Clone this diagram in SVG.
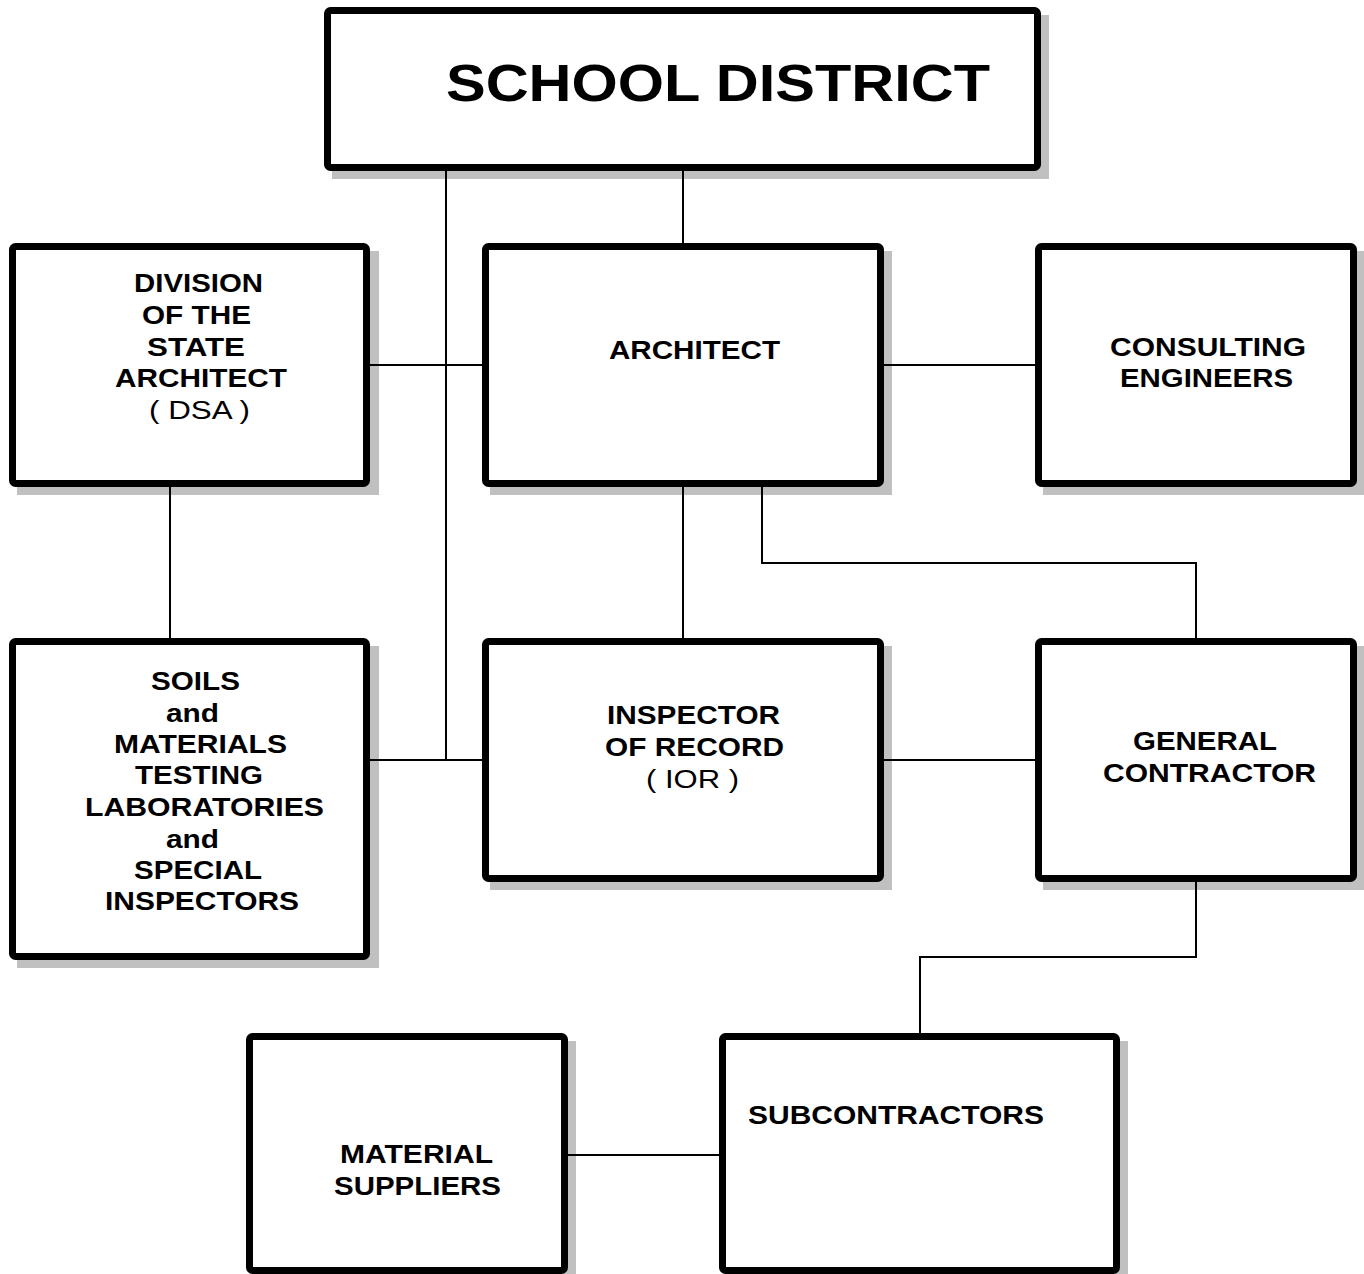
<svg xmlns="http://www.w3.org/2000/svg" width="1364" height="1274" viewBox="0 0 1364 1274">
<style>
.box{fill:#fff;stroke:#000;stroke-width:7}
.sh{fill:#c0c0c0}
.ln{fill:none;stroke:#000;stroke-width:2}
text{font-family:"Liberation Sans",Arial,sans-serif;font-size:26px;font-weight:bold;fill:#000}
.r{font-weight:normal}
</style>
<rect width="1364" height="1274" fill="#fff"/>
<g id="shadows">
<rect class="sh" x="332" y="15" width="717" height="164"/>
<rect class="sh" x="17" y="251" width="362" height="244"/>
<rect class="sh" x="490" y="251" width="402" height="244"/>
<rect class="sh" x="1043" y="251" width="322" height="244"/>
<rect class="sh" x="17" y="646" width="362" height="322"/>
<rect class="sh" x="490" y="646" width="402" height="244"/>
<rect class="sh" x="1043" y="646" width="322" height="244"/>
<rect class="sh" x="254" y="1041" width="322" height="244"/>
<rect class="sh" x="727" y="1041" width="401" height="244"/>
</g>
<g id="connectors">
<line class="ln" x1="683" y1="168" x2="683" y2="246"/>
<line class="ln" x1="446" y1="168" x2="446" y2="760"/>
<line class="ln" x1="368" y1="365" x2="485" y2="365"/>
<line class="ln" x1="881" y1="365" x2="1038" y2="365"/>
<line class="ln" x1="170" y1="484" x2="170" y2="641"/>
<line class="ln" x1="683" y1="484" x2="683" y2="641"/>
<polyline class="ln" points="762,484 762,563 1196,563 1196,641"/>
<line class="ln" x1="368" y1="760" x2="485" y2="760"/>
<line class="ln" x1="881" y1="760" x2="1038" y2="760"/>
<polyline class="ln" points="1196,879 1196,957 920,957 920,1036"/>
<line class="ln" x1="565" y1="1155" x2="722" y2="1155"/>
</g>
<g id="school-district">
<rect class="box" x="327.5" y="10.5" width="710" height="157" rx="3"/>
<text x="446" y="101" style="font-size:52px" textLength="544" lengthAdjust="spacingAndGlyphs">SCHOOL DISTRICT</text>
</g>
<g id="dsa">
<rect class="box" x="12.5" y="246.5" width="354" height="237" rx="3"/>
<text x="134" y="292" textLength="129" lengthAdjust="spacingAndGlyphs">DIVISION</text>
<text x="142" y="324" textLength="109" lengthAdjust="spacingAndGlyphs">OF THE</text>
<text x="147" y="356" textLength="98" lengthAdjust="spacingAndGlyphs">STATE</text>
<text x="115" y="387" textLength="172" lengthAdjust="spacingAndGlyphs">ARCHITECT</text>
<text class="r" x="149" y="419" textLength="101" lengthAdjust="spacingAndGlyphs">( DSA )</text>
</g>
<g id="architect">
<rect class="box" x="485.5" y="246.5" width="395" height="237" rx="3"/>
<text x="609" y="359" textLength="171" lengthAdjust="spacingAndGlyphs">ARCHITECT</text>
</g>
<g id="consulting-engineers">
<rect class="box" x="1038.5" y="246.5" width="315" height="237" rx="3"/>
<text x="1110" y="356" textLength="196" lengthAdjust="spacingAndGlyphs">CONSULTING</text>
<text x="1120" y="387" textLength="173" lengthAdjust="spacingAndGlyphs">ENGINEERS</text>
</g>
<g id="soils">
<rect class="box" x="12.5" y="641.5" width="354" height="315" rx="3"/>
<text x="151" y="690" textLength="89" lengthAdjust="spacingAndGlyphs">SOILS</text>
<text x="166" y="722" textLength="53" lengthAdjust="spacingAndGlyphs">and</text>
<text x="114" y="753" textLength="173" lengthAdjust="spacingAndGlyphs">MATERIALS</text>
<text x="135" y="784" textLength="128" lengthAdjust="spacingAndGlyphs">TESTING</text>
<text x="85" y="816" textLength="239" lengthAdjust="spacingAndGlyphs">LABORATORIES</text>
<text x="166" y="848" textLength="53" lengthAdjust="spacingAndGlyphs">and</text>
<text x="134" y="879" textLength="128" lengthAdjust="spacingAndGlyphs">SPECIAL</text>
<text x="105" y="910" textLength="194" lengthAdjust="spacingAndGlyphs">INSPECTORS</text>
</g>
<g id="ior">
<rect class="box" x="485.5" y="641.5" width="395" height="237" rx="3"/>
<text x="607" y="724" textLength="173" lengthAdjust="spacingAndGlyphs">INSPECTOR</text>
<text x="605" y="756" textLength="179" lengthAdjust="spacingAndGlyphs">OF RECORD</text>
<text class="r" x="646" y="788" textLength="93" lengthAdjust="spacingAndGlyphs">( IOR )</text>
</g>
<g id="general-contractor">
<rect class="box" x="1038.5" y="641.5" width="315" height="237" rx="3"/>
<text x="1133" y="750" textLength="144" lengthAdjust="spacingAndGlyphs">GENERAL</text>
<text x="1103" y="782" textLength="213" lengthAdjust="spacingAndGlyphs">CONTRACTOR</text>
</g>
<g id="material-suppliers">
<rect class="box" x="249.5" y="1036.5" width="315" height="234" rx="3"/>
<text x="340" y="1163" textLength="153" lengthAdjust="spacingAndGlyphs">MATERIAL</text>
<text x="334" y="1195" textLength="167" lengthAdjust="spacingAndGlyphs">SUPPLIERS</text>
</g>
<g id="subcontractors">
<rect class="box" x="722.5" y="1036.5" width="394" height="234" rx="3"/>
<text x="748" y="1124" textLength="296" lengthAdjust="spacingAndGlyphs">SUBCONTRACTORS</text>
</g>
</svg>
